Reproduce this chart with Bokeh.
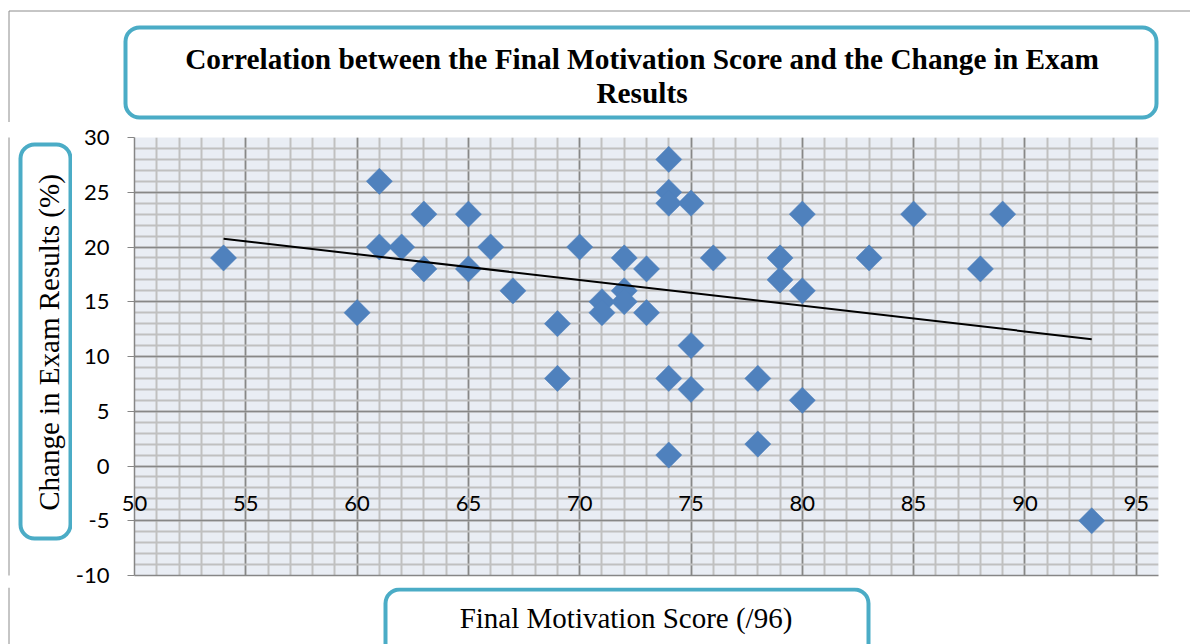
import numpy as np
from bokeh.plotting import figure
from bokeh.layouts import column, row
from bokeh.models import (ColumnDataSource, SingleIntervalTicker, BoxAnnotation, Label,
                          Range1d, PrintfTickFormatter, Span)
from bokeh.embed import file_html
from bokeh.resources import INLINE

# ---- data ----
motivation_score = [54, 60, 61, 61, 62, 63, 63, 65, 65, 66, 67, 69, 69, 70, 71, 71,
                    72, 72, 72, 73, 73, 74, 74, 74, 74, 74, 75, 75, 75, 76, 78, 78,
                    79, 79, 80, 80, 80, 83, 85, 88, 89, 93]
exam_change = [19, 14, 26, 20, 20, 23, 18, 23, 18, 20, 16, 13, 8, 20, 15, 14,
               19, 16, 15, 18, 14, 28, 25, 24, 8, 1, 24, 11, 7, 19, 8, 2,
               19, 17, 23, 16, 6, 19, 23, 18, 23, -5]

title_lines = ["Correlation between the Final Motivation Score and the Change in Exam", "Results"]
x_title = "Final Motivation Score (/96)"
y_title = "Change in Exam Results (%)"

# linear trend line (least squares, like Excel's trendline)
slope, intercept = np.polyfit(motivation_score, exam_change, 1)
trend_x = [min(motivation_score), max(motivation_score)]
trend_y = [slope * v + intercept for v in trend_x]

BOX = "#4BACC6"
EDGE = "#8C8C8C"
SERIF = "Liberation Serif"
W, H = 1190, 644
FRAME_L, FRAME_T, FRAME_W, FRAME_H = 133, 137, 1024, 438
TOP_H = 122
MID_BOTTOM = 587
MID_H = MID_BOTTOM - TOP_H
BOT_H = H - MID_BOTTOM
LEFT_W = 72


def style_panel(f):
    f.outline_line_color = None
    f.background_fill_color = "white"
    f.border_fill_color = "white"
    f.xgrid.visible = False
    f.ygrid.visible = False
    return f


def rbox(l, r, t, b, width=4, radius=14, color=BOX):
    return BoxAnnotation(left=l, right=r, top=t, bottom=b,
                         fill_alpha=0.0, line_color=color, line_width=width,
                         line_alpha=1.0, border_radius=radius)


def edge_line(fig):
    fig.add_layout(Span(location=8.5, dimension="height", line_color=EDGE, line_width=1))


def text(x, y, s, bold=False, angle=0.0):
    return Label(x=x, y=y, text=s, angle=angle, text_font=SERIF,
                 text_font_size="29.3px" if bold else "29px",
                 text_font_style="bold" if bold else "normal",
                 text_align="center", text_baseline="alphabetic", text_color="black")


# ---- top: title box (page coords: y 0..TOP_H) ----
top = style_panel(figure(width=W, height=TOP_H, x_range=Range1d(0, W), y_range=Range1d(TOP_H, 0),
                         x_axis_type=None, y_axis_type=None, min_border=0,
                         output_backend="svg", toolbar_location=None))
top.add_layout(rbox(8.5, 5000, 10.5, 5000, width=1, radius=0, color=EDGE))
top.add_layout(rbox(125, 1156, 27, 117))
top.add_layout(text(641.5, 58, title_lines[0], bold=True))
top.add_layout(text(641.5, 92, title_lines[1], bold=True))

# ---- left: y title box (frame aligned with the chart frame, page coords) ----
left = style_panel(figure(frame_width=LEFT_W, frame_height=FRAME_H,
                          x_range=Range1d(0, LEFT_W),
                          y_range=Range1d(FRAME_T + FRAME_H, FRAME_T),
                          x_axis_type=None, y_axis_type=None,
                          min_border_left=0, min_border_right=0,
                          min_border_top=FRAME_T - TOP_H,
                          min_border_bottom=MID_BOTTOM - FRAME_T - FRAME_H,
                          output_backend="svg", toolbar_location=None))
left.segment(x0=[8.5], y0=[FRAME_T - 20], x1=[8.5], y1=[MID_BOTTOM + 20],
             line_color=EDGE, line_width=1)
left.add_layout(rbox(20, 70, 144, 538))
left.add_layout(text(48, 342, y_title, angle=np.pi / 2))

# ---- bottom: x title box (local y = page y - MID_BOTTOM) ----
bot = style_panel(figure(width=W, height=BOT_H, x_range=Range1d(0, W), y_range=Range1d(BOT_H, 0),
                         x_axis_type=None, y_axis_type=None, min_border=0,
                         output_backend="svg", toolbar_location=None))
edge_line(bot)
bot.add_layout(rbox(385, 868, 589 - MID_BOTTOM, 300))
bot.add_layout(text(625.5, 617 - MID_BOTTOM, x_title))

# ---- main scatter ----
p = figure(frame_width=FRAME_W, frame_height=FRAME_H,
           x_range=(50, 96), y_range=(-10, 30),
           min_border_left=FRAME_L - LEFT_W,
           min_border_right=W - FRAME_L - FRAME_W,
           min_border_top=FRAME_T - TOP_H,
           min_border_bottom=MID_BOTTOM - FRAME_T - FRAME_H,
           output_backend="svg", toolbar_location=None)
p.background_fill_color = "#E9EDF4"
p.border_fill_color = "white"
p.outline_line_color = None

xt = SingleIntervalTicker(interval=5, num_minor_ticks=5)
yt = SingleIntervalTicker(interval=5, num_minor_ticks=5)
p.xaxis.ticker = xt
p.yaxis.ticker = yt
p.xgrid.ticker = xt
p.ygrid.ticker = yt

for g in (p.xgrid, p.ygrid):
    g.grid_line_color = "#878787"
    g.grid_line_width = 1.5
    g.minor_grid_line_color = "#C0C0C0"
    g.minor_grid_line_width = 2

for ax in (p.xaxis, p.yaxis):
    ax.axis_line_color = "#868686"
    ax.axis_line_width = 1.5
    ax.major_tick_line_color = "#868686"
    ax.major_tick_in = 0
    ax.minor_tick_line_color = None
    ax.major_label_text_font = "Lato"
    ax.major_label_text_font_size = "22px"
    ax.major_label_text_color = "#000000"
    ax.formatter = PrintfTickFormatter(format="%d")

# x tick labels sit just below the y = 0 line, as in the reference
p.xaxis.major_tick_out = 0
p.xaxis.major_tick_line_color = None
p.xaxis.major_label_standoff = -84
p.yaxis.major_tick_out = 7
p.yaxis.major_label_standoff = 18

src = ColumnDataSource(dict(x=motivation_score, y=exam_change))
p.scatter("x", "y", source=src, marker="square", angle=np.pi / 4, size=18.5,
          fill_color="#4F81BD", line_color="#4F81BD", line_width=0.5)
p.line(trend_x, trend_y, line_color="black", line_width=2)

layout = column(top, row(left, p), bot)

open("out.html", "w").write(file_html(layout, INLINE))
